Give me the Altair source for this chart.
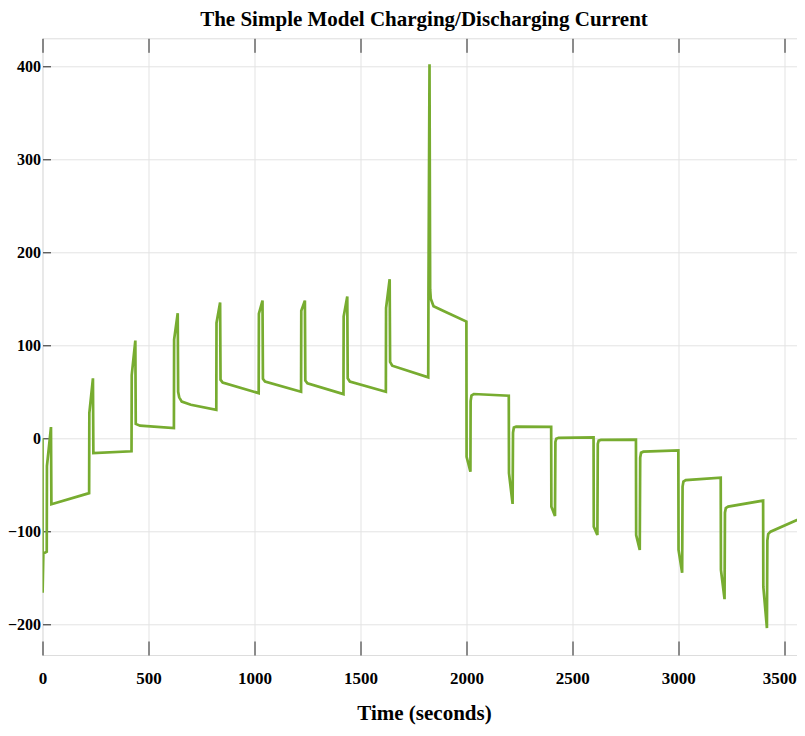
import altair as alt
import pandas as pd

# ---- data ----
time_s = [0, 0.5, 4, 20, 21, 40, 42, 220,
          221, 238, 240, 420,
          421, 438, 440, 460, 620,
          621, 638, 640, 645, 657, 700, 820,
          821, 838, 840, 850, 1020,
          1021, 1038, 1040, 1050, 1220,
          1221, 1238, 1240, 1250, 1420,
          1421, 1438, 1440, 1450, 1620,
          1621, 1638, 1640, 1650, 1820,
          1821, 1826, 1829, 1832, 1845, 1900, 2000,
          2001, 2019, 2020, 2024, 2035, 2200,
          2201, 2218, 2220, 2224, 2235, 2400,
          2401, 2418, 2420, 2424, 2435, 2600,
          2601, 2618, 2620, 2624, 2635, 2800,
          2801, 2818, 2820, 2824, 2835, 3000,
          3001, 3018, 3020, 3024, 3035, 3200,
          3201, 3218, 3220, 3224, 3235, 3400,
          3401, 3418, 3420, 3424, 3435, 3594,
          3595, 3600]
current_a = [0, -166, -124, -122, -30, 12, -71, -59,
             27, 64.5, -16, -14,
             68, 105, 15.4, 13.5, 11,
             106, 134.5, 50, 44, 39.4, 36, 30.5,
             124, 146, 63, 60, 48.5,
             134, 148, 64, 61, 50,
             137, 148, 62, 59, 47.5,
             131, 152.5, 64.5, 61, 50,
             140, 171, 82, 78, 65.5,
             154, 402, 160, 150, 142, 136, 125.5,
             -20, -36, 40, 46, 47.6, 45.8,
             -37.6, -70.6, 6, 11.5, 12.5, 12.3,
             -73.5, -83.5, -4, -0.5, 0.5, 1,
             -95, -104, -6, -2.5, -1.8, -1.5,
             -104, -120, -21, -15.5, -14.4, -13,
             -120, -144.5, -52, -46.5, -45, -42.4,
             -141.6, -173, -80, -75, -73.5, -67,
             -159.5, -204, -110, -103, -100.4, -84.5,
             -160, -197]

x_ticks = [0, 500, 1000, 1500, 2000, 2500, 3000, 3500]
y_ticks = [-200, -100, 0, 100, 200, 300, 400]

title_text = "The Simple Model Charging/Discharging Current"
x_title = "Time (seconds)"

df = pd.DataFrame({"t": time_s, "i": current_a, "k": list(range(len(time_s)))})

W = 763
H = 616.7
FONT = "Liberation Serif"
TICK_COLOR = "#262626"
GRID_COLOR = "#e3e3e3"
LINE_COLOR = "#77AC30"

xs = alt.Scale(domain=[0, 3600], nice=False, zero=False)
ys = alt.Scale(domain=[-233, 430], nice=False, zero=False)

base = alt.Chart(df)

main = base.mark_line(color=LINE_COLOR, strokeWidth=2.7, strokeJoin="miter", clip=True).encode(
    x=alt.X("t:Q", scale=xs,
            axis=alt.Axis(values=x_ticks, format="d", grid=True, gridColor=GRID_COLOR, gridWidth=1,
                          ticks=False, tickSize=0, domain=False,
                          labelFont=FONT, labelFontWeight="bold", labelFontSize=17,
                          labelColor="#000000", labelPadding=15, labelFlush=False,
                          labelOffset={"condition": {"test": "datum.value >= 3500", "value": -5},
                                       "value": 0},
                          title=x_title, titleFont=FONT, titleFontWeight="bold",
                          titleFontSize=21, titleColor="#000000", titlePadding=16)),
    y=alt.Y("i:Q", scale=ys,
            axis=alt.Axis(values=y_ticks, format="d", grid=True, gridColor=GRID_COLOR, gridWidth=1,
                          ticks=False, tickSize=0, domain=False,
                          labelFont=FONT, labelFontWeight="bold", labelFontSize=16,
                          labelColor="#000000", labelPadding=2, labelFlush=False,
                          title=None)),
    order=alt.Order("k:Q"),
)

# inward ticks at bottom (x) and left (y)
ticks_a = base.mark_line(opacity=0).encode(
    x=alt.X("t:Q", scale=xs,
            axis=alt.Axis(orient="top", offset=-H, values=x_ticks, grid=False, labels=False,
                          domain=False, ticks=True, tickSize=14, tickColor=TICK_COLOR,
                          tickWidth=1, title=None)),
    y=alt.Y("i:Q", scale=ys,
            axis=alt.Axis(orient="right", offset=-W, values=y_ticks, grid=False, labels=False,
                          domain=False, ticks=True, tickSize=8, tickColor=TICK_COLOR,
                          tickWidth=1, title=None)),
    order=alt.Order("k:Q"),
)

# inward ticks at top (x) and right (y)
ticks_b = base.mark_line(opacity=0).encode(
    x=alt.X("t:Q", scale=xs,
            axis=alt.Axis(orient="bottom", offset=-H, values=x_ticks, grid=False, labels=False,
                          domain=False, ticks=True, tickSize=14, tickColor=TICK_COLOR,
                          tickWidth=1, title=None)),
    y=alt.Y("i:Q", scale=ys,
            axis=alt.Axis(orient="left", offset=-W, values=y_ticks, grid=False, labels=False,
                          domain=False, ticks=True, tickSize=8, tickColor=TICK_COLOR,
                          tickWidth=1, title=None)),
    order=alt.Order("k:Q"),
)

chart = alt.layer(main, ticks_a, ticks_b).resolve_axis(
    x="independent", y="independent"
).properties(
    width=W, height=H,
    title=alt.TitleParams(title_text, font=FONT, fontWeight="bold", fontSize=21,
                          color="#000000", anchor="middle", frame="group", offset=8),
    autosize=alt.AutoSizeParams(type="none"),
    padding={"left": 34.5, "top": 30.3, "right": -8.5, "bottom": 81},
).configure_view(
    stroke=TICK_COLOR, strokeWidth=1
).configure(background="#ffffff")

chart.save("out.html", embed_options={"renderer": "svg", "actions": False})
